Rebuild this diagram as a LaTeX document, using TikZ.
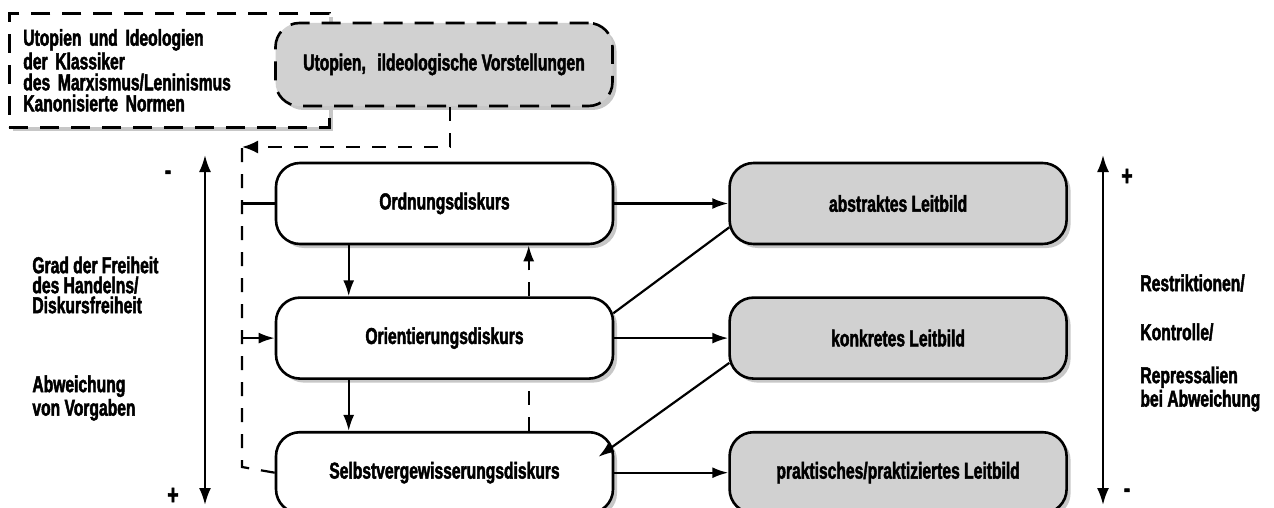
\documentclass[tikz,border=0pt]{standalone}
\usepackage{fontspec}
\setsansfont{Liberation Sans Bold}[FakeStretch=0.68, BoldFont={Liberation Sans Bold}, BoldFeatures={FakeBold=2}]
\usetikzlibrary{arrows.meta,shadows,calc,positioning}

\begin{document}
\begin{tikzpicture}[
		x=0.5pt, y=-0.5pt,
		font=\sffamily\bfseries\fontsize{11.5}{10}\selectfont,
		shadowed/.style={drop shadow={shadow xshift=2pt, shadow yshift=-2pt, fill=black!22, opacity=1}},
		disc/.style={draw, line width=1.3pt, rounded corners=12pt, fill=white, minimum width=168.5pt, minimum height=40.5pt, shadowed},
		bild/.style={disc, fill=black!18},
		dashbox/.style={draw, line width=1.3pt, dash pattern=on 9.5pt off 6pt, fill=white, shadowed},
		link/.style={line width=1.1pt},
		conn/.style={link, -{Latex[length=8pt, width=5.5pt]}},
		dashline/.style={link, dash pattern=on 7pt off 6pt},
		note/.style={align=left, anchor=west, inner sep=0pt},
		sign/.style={inner sep=0pt, font=\sffamily\bfseries\fontsize{14}{14}\selectfont},
	]
		\useasboundingbox (0,0) rectangle (1274,508);

		\node (klass) [dashbox, anchor=north west, minimum width=160pt, minimum height=57pt, text width=146pt, inner xsep=7pt, align=left, font=\sffamily\bfseries\fontsize{11.5}{10.5}\selectfont] at (8,12) {Utopien und Ideologien\\der Klassiker\\des Marxismus/Leninismus\\Kanonisierte Normen};
		\node (utop) [bild, dash pattern=on 9.5pt off 6pt, minimum height=41.5pt] at (444,64.5) {Utopien,\enspace ildeologische Vorstellungen};

		\node (ord) [disc] at (444.5,203.5) {Ordnungsdiskurs};
		\node (orient) [disc, below=25.5pt of ord] {Orientierungsdiskurs};
		\node (selbst) [disc, below=25.5pt of orient] {Selbstvergewisserungsdiskurs};

		\node (abstr) [bild, right=57pt of ord] {abstraktes Leitbild};
		\node (konkr) [bild, right=57pt of orient] {konkretes Leitbild};
		\node (prakt) [bild, right=57pt of selbst] {praktisches/praktiziertes Leitbild};

		\coordinate (fbtop) at (242,137);
		\coordinate (fbin) at (242,147);
		\coordinate (fbbot) at (242,467);

		\draw[dashline] (selbst.west) -- (fbbot) -- (fbtop);
		\draw[dashline, -{Latex[length=8pt, width=6.5pt]}] ([xshift=3pt]utop.south) |- (fbin);
		\draw[link] (fbtop |- ord.west) -- (ord.west);
		\draw[conn] (fbtop |- orient.west) -- (orient.west);

		\draw[conn] ([xshift=37pt]ord.south west) -- ([xshift=37pt]orient.north west);
		\draw[conn] ([xshift=37pt]orient.south west) -- ([xshift=37pt]selbst.north west);
		\draw[dashline] ([xshift=127pt]selbst.north west) -- ([xshift=127pt]orient.south west);
		\draw[dashline, -{Latex[length=8pt, width=5.5pt]}] ([xshift=127pt]orient.north west) -- ([xshift=127pt]ord.south west);

		\draw[conn] (ord.east) -- (abstr.west);
		\draw[conn] (orient.east) -- (konkr.west);
		\draw[conn] (selbst.east) -- (prakt.west);
		\draw[link] ($(orient.north east)+(-1,17)$) -- ($(abstr.south west)+(1,-18)$);
		\draw[conn] ($(konkr.south west)+(1,-17)$) -- ($(selbst.north east)+(-16,26)$);

		\coordinate (ltop) at (205,155);
		\coordinate (lbot) at (205,505);
		\coordinate (rtop) at (1103,155);
		\coordinate (rbot) at (1103,505);
		\draw[link, {Latex[length=8.5pt, width=6pt]}-{Latex[length=8.5pt, width=6pt]}] (ltop) -- (lbot);
		\draw[link, {Latex[length=8.5pt, width=6pt]}-{Latex[length=8.5pt, width=6pt]}] (rtop) -- (rbot);

		\node (lminus) [sign] at (168,175) {-};
		\node (lplus) [sign] at (173,496) {+};
		\node (rplus) [sign] at (1127,177) {+};
		\node (rminus) [sign] at (1127,493) {-};

		\node (grad) [note] at (32,285) {Grad der Freiheit\\des Handelns/\\Diskursfreiheit};
		\node (abw) [note] at (32,398) {Abweichung\\von Vorgaben};
		\node (restr) [note] at (1140,283) {Restriktionen/};
		\node (kontr) [note] at (1140,332) {Kontrolle/};
		\node (repr) [note, font=\sffamily\bfseries\fontsize{11.5}{9.3}\selectfont] at (1140,389) {Repressalien\\bei Abweichung};
	\end{tikzpicture}
\end{document}
